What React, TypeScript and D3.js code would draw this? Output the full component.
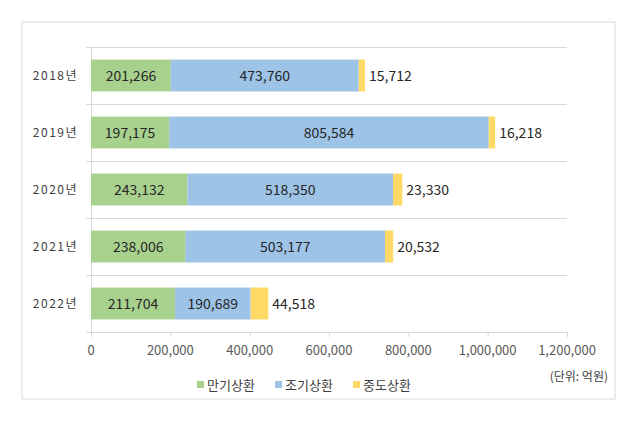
import React from "react";
import * as d3 from "d3";

const years = ["2018년", "2019년", "2020년", "2021년", "2022년"];
const maturity = [201266, 197175, 243132, 238006, 211704];
const early = [473760, 805584, 518350, 503177, 190689];
const midway = [15712, 16218, 23330, 20532, 44518];
const seriesNames = ["만기상환", "조기상환", "중도상환"];
const seriesColors = ["#a9d18e", "#9dc3e6", "#ffd966"];
const xTicks = [0, 200000, 400000, 600000, 800000, 1000000, 1200000];

const W = 640, H = 423;
const plot = { left: 91, right: 567, top: 47, bottom: 332 };
const KFONT = "'Noto Sans CJK KR', 'Noto Sans', sans-serif";

export default function App() {
  const x = d3.scaleLinear().domain([0, 1200000]).range([plot.left, plot.right]);
  const y = d3.scaleBand().domain(years).range([plot.top, plot.bottom]).paddingInner(0.44).paddingOuter(0.22);
  const fmt = d3.format(",");
  const stackData = years.map((yr, i) => ({ yr, a: maturity[i], b: early[i], c: midway[i] }));
  const stack = d3.stack<any>().keys(["a", "b", "c"])(stackData);
  const bandEdges = d3.range(years.length + 1).map(i => plot.top + (i * (plot.bottom - plot.top)) / years.length);

  return (
    <svg width={W} height={H} style={{ position: "absolute", left: 0, top: 0, background: "#fff" }}>
      <rect x={22} y={22} width={593} height={377} fill="#fff" stroke="#d9d9d9" strokeWidth={1} />
      {bandEdges.slice(0, -1).map((yy, i) => (
        <line key={i} x1={plot.left} x2={plot.right} y1={yy + 0.5} y2={yy + 0.5} stroke="#d9d9d9" />
      ))}
      <line x1={plot.left + 0.5} x2={plot.left + 0.5} y1={plot.top} y2={plot.bottom} stroke="#d9d9d9" />
      <line x1={plot.left} x2={plot.right} y1={plot.bottom + 0.5} y2={plot.bottom + 0.5} stroke="#d9d9d9" />
      {bandEdges.map((yy, i) => (
        <line key={"yt" + i} x1={plot.left - 5} x2={plot.left} y1={yy + 0.5} y2={yy + 0.5} stroke="#d9d9d9" />
      ))}
      {xTicks.map(t => (
        <g key={t}>
          <line x1={x(t) + 0.5} x2={x(t) + 0.5} y1={plot.bottom} y2={plot.bottom + 5} stroke="#d9d9d9" />
          <text x={x(t)} y={plot.bottom + 23} textAnchor="middle" fontSize={13} fill="#595959" fontFamily={KFONT}>{fmt(t)}</text>
        </g>
      ))}
      {years.map(yr => (
        <text key={yr} x={78} y={(y(yr) as number) + y.bandwidth() / 2 + 4.5} textAnchor="end" fontSize={12} fill="#404040" letterSpacing={1.5} fontFamily={KFONT}>{yr}</text>
      ))}
      {stack.map((s, si) => (
        <g key={si}>
          {s.map((d, i) => (
            <rect key={i} x={x(d[0])} y={y(years[i])} width={x(d[1]) - x(d[0])} height={y.bandwidth()} fill={seriesColors[si]} />
          ))}
        </g>
      ))}
      {stack.map((s, si) => (
        <g key={"l" + si}>
          {s.map((d, i) => {
            const cy = (y(years[i]) as number) + y.bandwidth() / 2 + 5;
            const v = d[1] - d[0];
            if (si < 2) {
              return <text key={i} x={(x(d[0]) + x(d[1])) / 2} y={cy} textAnchor="middle" fontSize={14} fill="#262626" fontFamily={KFONT}>{fmt(v)}</text>;
            }
            return <text key={i} x={x(d[1]) + 4} y={cy} textAnchor="start" fontSize={14} fill="#262626" fontFamily={KFONT}>{fmt(v)}</text>;
          })}
        </g>
      ))}
      {seriesNames.map((n, i) => {
        const lx = [200, 278, 356][i];
        return (
          <g key={n}>
            <rect x={lx - 3} y={381} width={7} height={7} fill={seriesColors[i]} />
            <text x={lx + 7} y={390} fontSize={13} fill="#404040" fontFamily={KFONT}>{n}</text>
          </g>
        );
      })}
      <text x={608} y={381} textAnchor="end" fontSize={12} fill="#404040" fontFamily={KFONT}>(단위: 억원)</text>
    </svg>
  );
}
